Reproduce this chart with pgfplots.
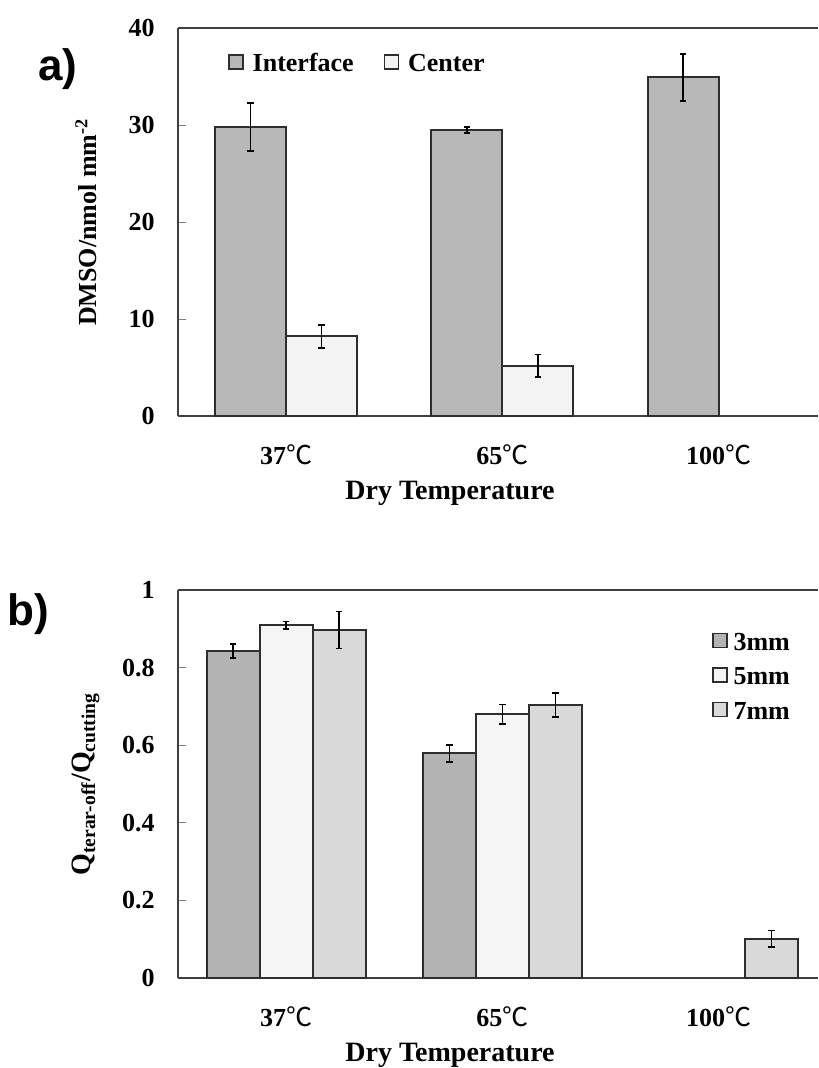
\documentclass[border=0pt]{standalone}
\usepackage{fontspec}
\setmainfont{Liberation Serif}
\newfontfamily\cjk{Noto Sans CJK SC}
\newfontfamily\arialfont{Liberation Sans}
\usepackage{pgfplots}
\pgfplotsset{compat=1.18}

\definecolor{cInterface}{HTML}{B8B8B8}
\definecolor{cCenter}{HTML}{F3F3F3}
\definecolor{cThree}{HTML}{B3B3B3}
\definecolor{cFive}{HTML}{F6F6F6}
\definecolor{cSeven}{HTML}{D9D9D9}
\definecolor{edge}{HTML}{2E2E2E}

\pgfplotsset{
  barstyle/.style={draw=edge, line width=1pt, fill=#1,
    legend image code/.code={\draw[##1, line width=0.7pt, draw=edge] (0pt,-2.25pt) rectangle (7pt,4.75pt);}},
  eb/.style={
    /pgfplots/error bars/y dir=both,
    /pgfplots/error bars/y explicit,
    /pgfplots/error bars/error mark=-,
    /pgfplots/error bars/error bar style={black, line width=0.8pt},
    /pgfplots/error bars/error mark options={rotate=90, black, line width=0.8pt, mark size=1.6pt},
  },
  panel/.style={
    scale only axis, width=320pt, height=194pt,
    xmin=-0.5, xmax=2.46, enlargelimits=false,
    ybar=0pt,
    axis x line=box, axis y line=left,
    axis line style={-, draw=black!75, line width=0.8pt},
    xtick={0,1,2},
    xticklabels={37{\cjk\mdseries ℃},65{\cjk\mdseries ℃},100{\cjk\mdseries ℃}},
    xtick style={draw=none},
    ytick style={draw=gray, line width=0.5pt},
    tick align=inside, major tick length=4pt,
    /pgf/number format/assume math mode=true,
    tick label style={font=\fontsize{13}{15}\selectfont\bfseries},
    xticklabel style={inner sep=0pt, anchor=north, yshift=-14pt},
    yticklabel style={inner sep=0pt, xshift=-11.5pt},
    xlabel={Dry Temperature},
    xlabel style={font=\fontsize{14}{16}\selectfont\bfseries,
      at={(axis description cs:0.425,-0.167)}, anchor=north, inner sep=0pt},
    ylabel style={font=\fontsize{13}{15}\selectfont\bfseries, anchor=south, inner sep=0pt},
    legend style={draw=none, fill=none, inner sep=0pt,
      font=\fontsize{13}{15}\selectfont\bfseries,
      nodes={inner sep=0pt, text height=9.5pt, text depth=2.5pt}},
  },
}

\begin{document}
\begin{tikzpicture}
% panel a
\begin{axis}[panel,
  at={(89pt,-208pt)}, anchor=south west,
  bar width=35.5pt,
  ymin=0, ymax=40, ytick={0,10,20,30,40},
  ylabel={DMSO/nmol mm\textsuperscript{-2}},
  ylabel style={at={(axis description cs:-0.127,0.5)}},
  legend columns=2,
  legend style={at={(axis description cs:0.078,0.938)}, anchor=north west,
    /tikz/every odd column/.append style={column sep=4.5pt},
    /tikz/every even column/.append style={column sep=15pt}},
  extra description/.code={
    \node[font=\arialfont\bfseries\fontsize{22}{24}\selectfont] at (-0.1875,0.894) {a)};
  },
]
\addplot[barstyle=cInterface, eb] coordinates {
  (0,29.8) +- (0,2.45)
  (1,29.5) +- (0,0.3)
  (2,34.9) +- (0,2.4)
};
\addplot[barstyle=cCenter, eb] coordinates {
  (0,8.2) +- (0,1.2)
  (1,5.2) +- (0,1.15)
};
\legend{Interface,Center}
\end{axis}

% panel b
\begin{axis}[panel,
  at={(89pt,-489pt)}, anchor=south west,
  bar width=26.5pt,
  ymin=0, ymax=1, ytick={0,0.2,0.4,0.6,0.8,1},
  ylabel={Q\textsubscript{terar-off}/Q\textsubscript{cutting}},
  ylabel style={at={(axis description cs:-0.122,0.5)}, font=\fontsize{14}{16}\selectfont\bfseries},
  legend style={at={(axis description cs:0.834,0.895)}, anchor=north west,
    row sep=5.25pt,
    /tikz/every odd column/.append style={column sep=3pt}},
  extra description/.code={
    \node[font=\arialfont\bfseries\fontsize{22}{24}\selectfont] at (-0.234,0.938) {b)};
  },
]
\addplot[barstyle=cThree, eb] coordinates {
  (0,0.843) +- (0,0.018)
  (1,0.579) +- (0,0.022)
};
\addplot[barstyle=cFive, eb] coordinates {
  (0,0.909) +- (0,0.010)
  (1,0.680) +- (0,0.025)
};
\addplot[barstyle=cSeven, eb] coordinates {
  (0,0.897) +- (0,0.048)
  (1,0.704) +- (0,0.031)
  (2,0.101) +- (0,0.021)
};
\legend{3mm,5mm,7mm}
\end{axis}
\pgfresetboundingbox
\useasboundingbox (0,0) rectangle (409pt,-534pt);
\end{tikzpicture}
\end{document}
